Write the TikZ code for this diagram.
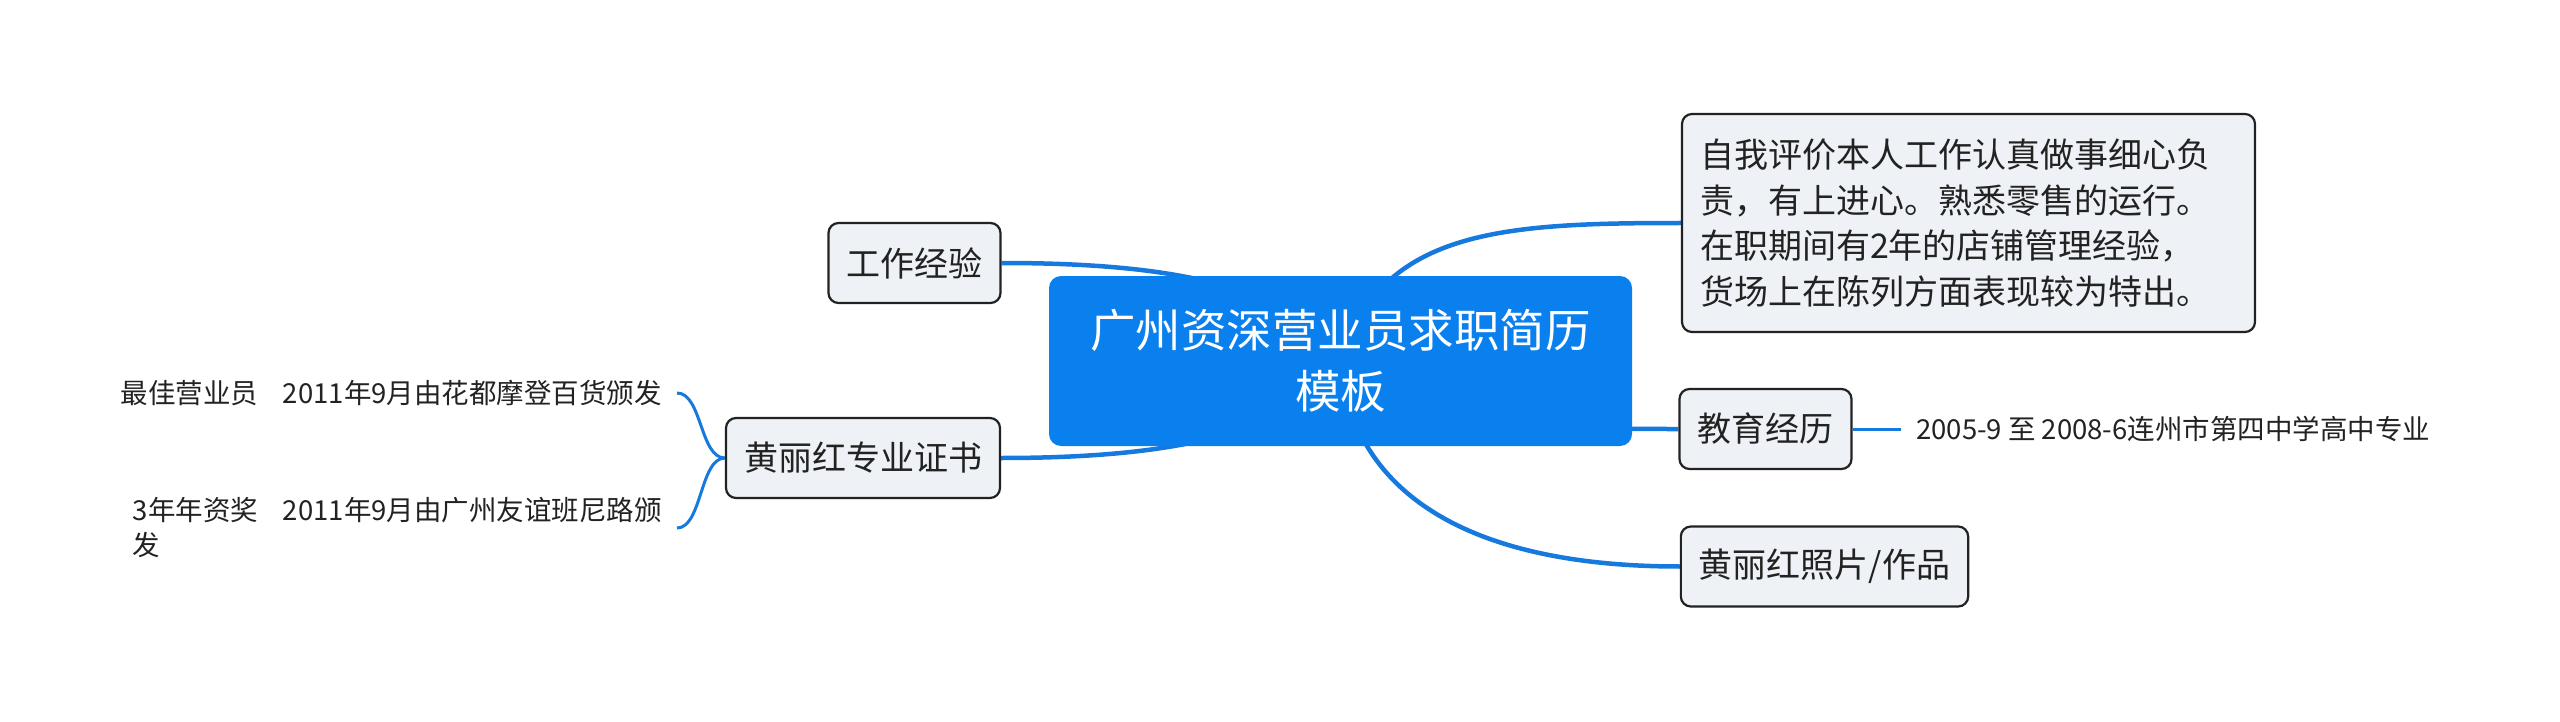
\documentclass[tikz,border=0pt]{standalone}
\usepackage{fontspec}
\setmainfont{Noto Sans CJK SC}
\usetikzlibrary{backgrounds}
\definecolor{blu}{RGB}{22,121,222}
\definecolor{centro}{RGB}{10,127,238}
\definecolor{riempi}{RGB}{238,241,245}
\definecolor{testo}{RGB}{34,34,34}
\tikzset{
  nodo/.style={draw=testo, line width=2.2pt, fill=riempi, rounded corners=10pt,
    minimum height=80pt, inner xsep=18pt, text=testo,
    font=\fontsize{34}{45.6}\selectfont},
  foglia/.style={text=testo, align=left, inner xsep=15pt, inner ysep=0pt,
    font=\fontsize{27.5}{35}\selectfont},
  ramo/.style={draw=blu, line width=4.5pt},
  graffa/.style={draw=blu, line width=3pt},
}
\begin{document}
\begin{tikzpicture}[x=1pt, y=-1pt]
\useasboundingbox (0,0) rectangle (2560,722);
% Nodo centrale e rami
\node[fill=centro, text=white, rounded corners=12pt, minimum width=583pt,
  minimum height=170pt, align=center, font=\fontsize{45.5}{61}\selectfont]
  (cv) at (1340.5,361) {广州资深营业员求职简历\\模板};
\node[nodo] (lavoro) at (914.5,263) {工作经验};
\node[nodo] (cert) at (863,458) {黄丽红专业证书};
\node[nodo, text width=537pt, minimum height=218pt, align=left] (giudizio) at (1968.5,223)
  {自我评价本人工作认真做事细心负\\责，有上进心。熟悉零售的运行。\\在职期间有2年的店铺管理经验，\\货场上在陈列方面表现较为特出。};
\node[nodo] (studi) at (1765.5,429) {教育经历};
\node[nodo] (foto) at (1824.5,566.5) {黄丽红照片/作品};
% Foglie
\node[foglia, anchor=west] (scuola) at (1901,429) {2005-9 至 2008-6连州市第四中学高中专业};
\node[foglia, anchor=east] (premio) at (677,393) {最佳营业员\hspace{0.9em}2011年9月由花都摩登百货颁发};
\node[foglia, anchor=east] (anni) at (677,528) {3年年资奖\hspace{0.9em}2011年9月由广州友谊班尼路颁\\发};
\begin{scope}[on background layer]
\draw[ramo] (cv.center) .. controls +(-50,-81) and +(149,0) .. (lavoro.east);
\draw[ramo] (cv.center) .. controls +(-50,79) and +(149,0) .. (cert.east);
\draw[ramo] (cv.center) .. controls +(40,-131) and +(-180,0) .. (giudizio.west);
\draw[ramo] (cv.center) .. controls +(110,68) and +(-130,0) .. (studi.west);
\draw[ramo] (cv.center) .. controls +(10,119) and +(-230,0) .. (foto.west);
\end{scope}
\draw[graffa] (studi.east) -- (scuola.west);
\draw[graffa] (cert.west) .. controls +(-25,0) and +(25,0) .. (premio.east);
\draw[graffa] (cert.west) .. controls +(-25,0) and +(25,0) .. (anni.east);
\end{tikzpicture}
\end{document}
